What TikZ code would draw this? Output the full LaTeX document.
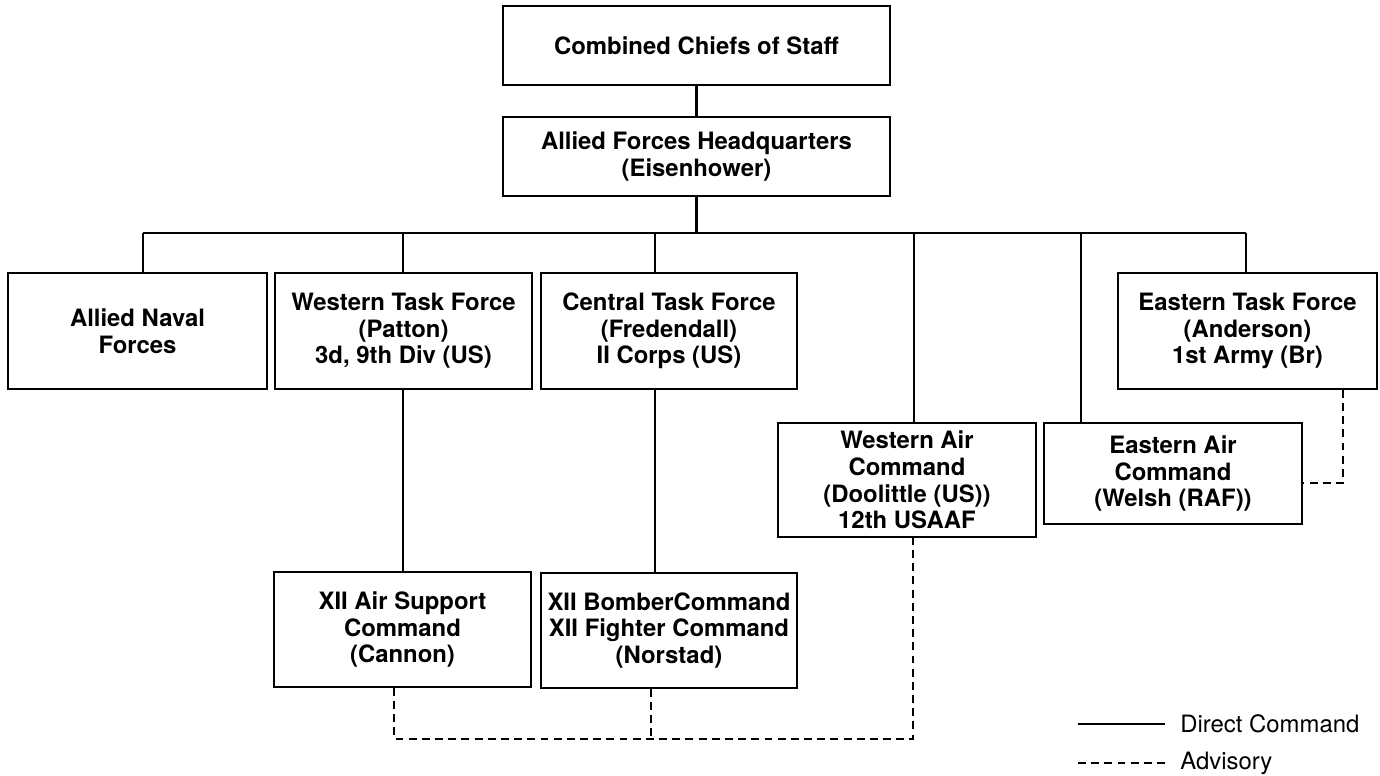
\documentclass[tikz,border=0pt]{standalone}
\usepackage{fontspec}
\setmainfont{TeX Gyre Heros}
\usetikzlibrary{calc}

\begin{document}
\begin{tikzpicture}[x=0.02cm,y=-0.02cm,
  box/.style={draw,line width=1pt,align=center,inner sep=0pt,
    font=\bfseries\fontsize{13.6}{15.1}\selectfont},
  cmd/.style={line width=1.6pt},
  adv/.style={line width=1.3pt,dash pattern=on 4.5pt off 3pt},
  legtext/.style={anchor=west,inner sep=0pt,font=\fontsize{13.6}{15.1}\selectfont}]

\useasboundingbox (0,0) rectangle (1380,775);

% top of the chain
\node[box,minimum width=7.74cm,minimum height=1.58cm] (ccs) at (696.5,45.5) {Combined Chiefs of Staff};
\node[box,minimum width=7.74cm,minimum height=1.58cm] (afhq) at (696.5,156.5) {Allied Forces Headquarters\\(Eisenhower)};

% task forces
\node[box,minimum width=5.18cm,minimum height=2.32cm] (naval) at (137.5,331) {Allied Naval\\Forces};
\node[box,minimum width=5.14cm,minimum height=2.32cm] (wtf) at (403.5,331) {Western Task Force\\(Patton)\\3d, 9th Div (US)};
\node[box,minimum width=5.12cm,minimum height=2.32cm] (ctf) at (669,331) {Central Task Force\\(Fredendall)\\II Corps (US)};
\node[box,minimum width=5.18cm,minimum height=2.32cm] (etf) at (1247.5,331) {Eastern Task Force\\(Anderson)\\1st Army (Br)};

% air commands
\node[box,minimum width=5.16cm,minimum height=2.28cm] (wac) at (907,480) {Western Air\\Command\\(Doolittle (US))\\12th USAAF};
\node[box,minimum width=5.16cm,minimum height=2.02cm] (eac) at (1173,473.5) {Eastern Air\\Command\\(Welsh (RAF))};
\node[box,minimum width=5.14cm,minimum height=2.30cm] (xas) at (402.5,629.5) {XII Air Support\\Command\\(Cannon)};
\node[box,minimum width=5.12cm,minimum height=2.30cm] (xbc) at (669,630.5) {XII BomberCommand\\XII Fighter Command\\(Norstad)};

% direct command
\coordinate (bus) at (695,233);
\coordinate (j1) at (143,233);
\coordinate (j2) at (403,233);
\coordinate (j3) at (655,233);
\coordinate (j4) at (914,233);
\coordinate (j5) at (1081,233);
\coordinate (j6) at (1246,233);

\draw[cmd] (ccs) -- (afhq);
\draw[cmd] (afhq.south) -- (afhq.south |- bus);
\draw[cmd] (j1) -- (j6);
\draw[cmd] (j1) -- (j1 |- naval.north);
\draw[cmd] (j2) -- (j2 |- wtf.north);
\draw[cmd] (j3) -- (j3 |- ctf.north);
\draw[cmd] (j4) -- (j4 |- wac.north);
\draw[cmd] (j5) -- (j5 |- eac.north);
\draw[cmd] (j6) -- (j6 |- etf.north);
\draw[cmd] (j2 |- wtf.south) -- (j2 |- xas.north);
\draw[cmd] (j3 |- ctf.south) -- (j3 |- xbc.north);

% advisory
\coordinate (a1) at (394,739);
\coordinate (a2) at (651,739);
\coordinate (a3) at (913,739);
\coordinate (e1) at (1343,483);
\draw[adv] (a1 |- xas.south) -- (a1) -- (a3) -- (a3 |- wac.south);
\draw[adv] (a2 |- xbc.south) -- (a2);
\draw[adv] (e1 |- etf.south) -- (e1) -- (e1 -| eac.east);

% legend
\node[legtext] (ldc) at (1180,724) {Direct Command};
\node[legtext] (ladv) at (1180,763) {Advisory};
\draw[cmd] ([xshift=-2.04cm]ldc.west) -- ([xshift=-0.3cm]ldc.west);
\draw[adv] ([xshift=-2.04cm]ladv.west) -- ([xshift=-0.3cm]ladv.west);

\end{tikzpicture}
\end{document}
